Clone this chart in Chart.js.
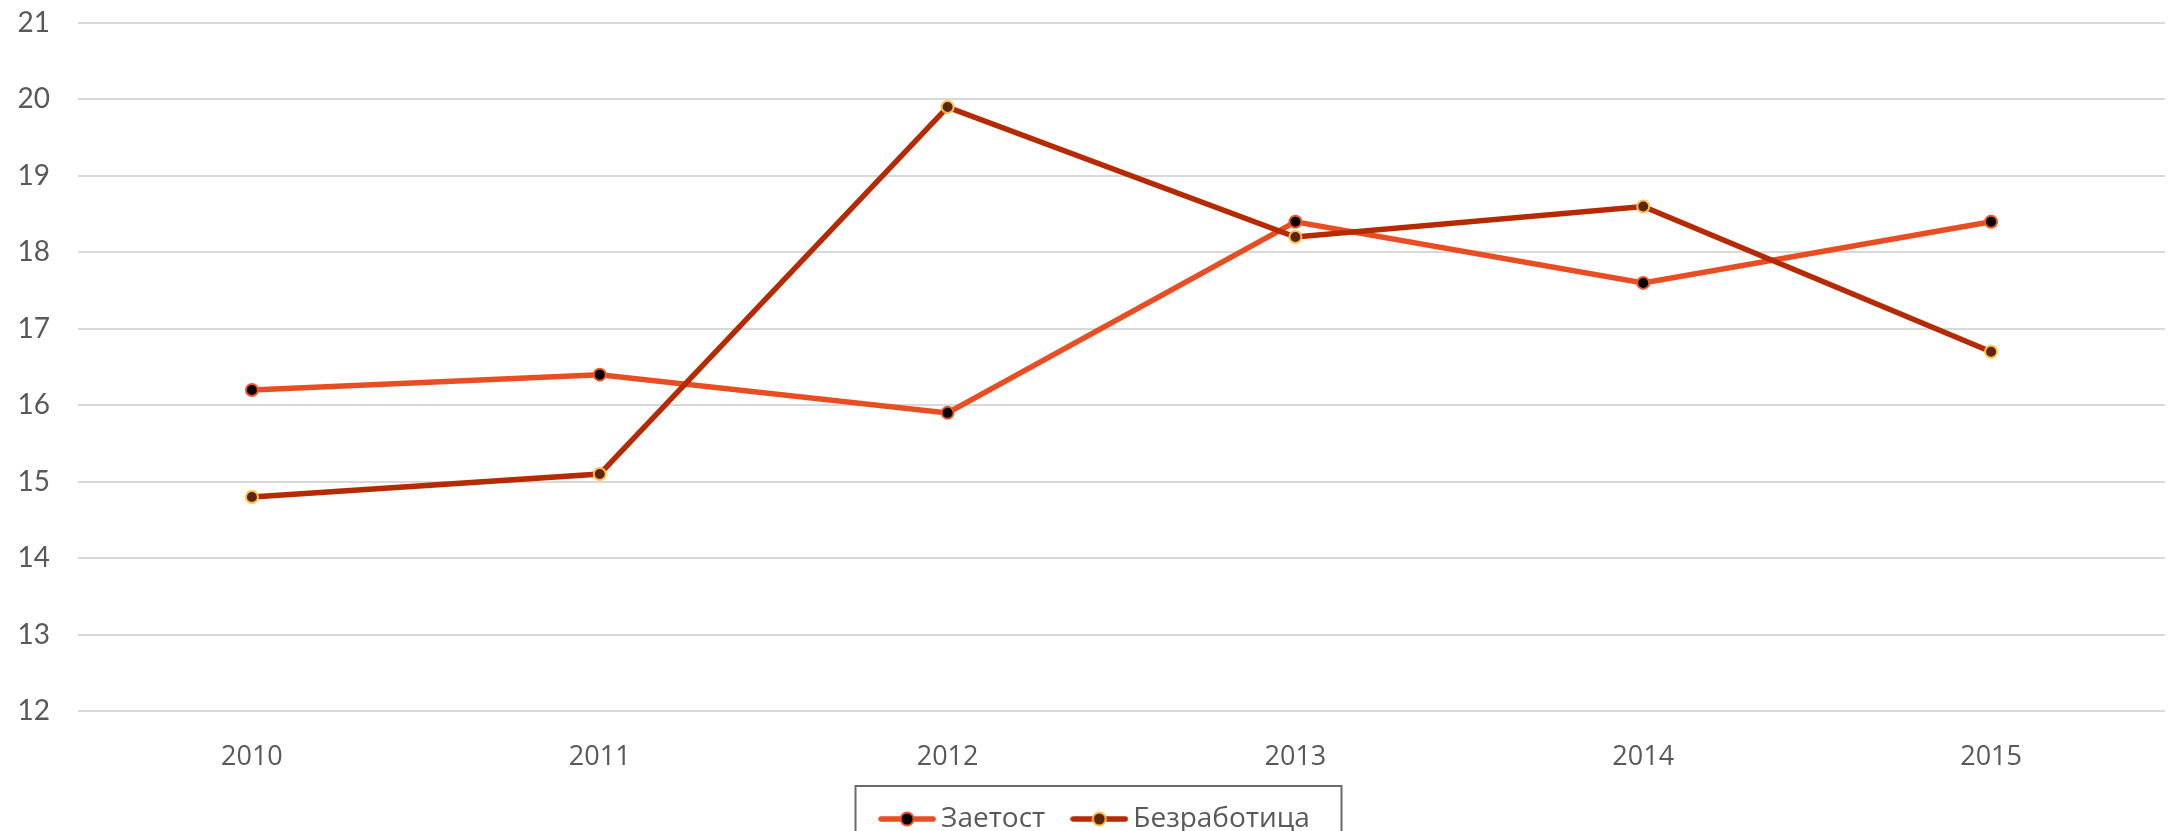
<!DOCTYPE html>
<html>
<head>
<meta charset="utf-8">
<script src="https://cdn.jsdelivr.net/npm/chart.js"></script>
<style>
  html, body { margin: 0; padding: 0; background: #ffffff; }
  #chart { display: block; }
</style>
</head>
<body>
<canvas id="chart" width="2173" height="831"></canvas>
<script>
// Data
const years = ['2010', '2011', '2012', '2013', '2014', '2015'];
const employment = [16.2, 16.4, 15.9, 18.4, 17.6, 18.4];
const unemployment = [14.8, 15.1, 19.9, 18.2, 18.6, 16.7];
const seriesNames = ['Заетост', 'Безработица'];
const yMin = 12;
const yMax = 21;

// Legend marker: short line with a dot in the middle
function legendMarker(lineColor, fill, stroke) {
    const c = document.createElement('canvas');
    c.width = 58;
    c.height = 18;
    const ctx = c.getContext('2d');
    ctx.strokeStyle = lineColor;
    ctx.lineWidth = 5.5;
    ctx.lineCap = 'round';
    ctx.beginPath();
    ctx.moveTo(3, 9);
    ctx.lineTo(55, 9);
    ctx.stroke();
    ctx.beginPath();
    ctx.arc(29, 9, 6.5, 0, Math.PI * 2);
    ctx.fillStyle = fill;
    ctx.fill();
    ctx.lineWidth = 2;
    ctx.strokeStyle = stroke;
    ctx.stroke();
    return c;
}

// Fix the legend height and shift it a bit, then frame it with a box
const legendLayout = {
    id: 'legendLayout',
    beforeLayout(chart) {
        const legend = chart.legend;
        if (!legend || legend._fitPatched) return;
        const origFit = legend.fit;
        legend.fit = function () {
            origFit.call(this);
            this.height = 60;
        };
        legend._fitPatched = true;
    },
    afterLayout(chart) {
        const legend = chart.legend;
        legend.left += 14;
        legend.right += 14;
    },
    afterDraw(chart) {
        const legend = chart.legend;
        const cx = (legend.left + legend.right) / 2;
        const ctx = chart.ctx;
        ctx.save();
        ctx.strokeStyle = '#6b6b6b';
        ctx.lineWidth = 2;
        ctx.strokeRect(cx - 243, 786, 486, 60);
        ctx.restore();
    }
};

new Chart(document.getElementById('chart'), {
    type: 'line',
    data: {
        labels: years,
        datasets: [
            {
                label: seriesNames[0],
                data: employment,
                order: 2,
                borderColor: '#E84E22',
                borderWidth: 5.5,
                pointRadius: 6,
                pointBorderWidth: 2,
                pointBackgroundColor: '#000000',
                pointBorderColor: '#F0552A',
                pointStyle: 'circle',
                tension: 0
            },
            {
                label: seriesNames[1],
                data: unemployment,
                order: 1,
                borderColor: '#B52A00',
                borderWidth: 5.5,
                pointRadius: 6,
                pointBorderWidth: 2,
                pointBackgroundColor: '#5C2612',
                pointBorderColor: '#FFC04A',
                pointStyle: 'circle',
                tension: 0
            }
        ]
    },
    options: {
        responsive: false,
        animation: false,
        layout: {
            padding: { top: 23, right: 4, left: 0, bottom: 0 }
        },
        scales: {
            x: {
                offset: true,
                afterFit(scale) { scale.height = 60; },
                grid: { display: false },
                border: { display: false },
                ticks: {
                    color: '#595959',
                    padding: 22,
                    font: { family: 'Open Sans', size: 27 }
                }
            },
            y: {
                min: yMin,
                max: yMax,
                afterFit(scale) { scale.width = 78; },
                // invisible tick marks give the gap between labels and grid
                grid: { color: '#d9d9d9', lineWidth: 2, drawTicks: true, tickLength: 26, tickColor: 'rgba(0,0,0,0)' },
                border: { display: false },
                ticks: {
                    stepSize: 1,
                    color: '#595959',
                    padding: 2,
                    font: { family: 'Lato', size: 28 }
                }
            }
        },
        plugins: {
            tooltip: { enabled: false },
            legend: {
                position: 'bottom',
                labels: {
                    usePointStyle: true,
                    pointStyleWidth: 40,
                    padding: 34,
                    color: '#595959',
                    font: { family: 'Open Sans', size: 28 },
                    generateLabels(chart) {
                        return [
                            { text: seriesNames[0], pointStyle: legendMarker('#E84E22', '#000000', '#F0552A'), fontColor: '#595959', datasetIndex: 0, hidden: false, lineWidth: 0 },
                            { text: seriesNames[1], pointStyle: legendMarker('#B52A00', '#5C2612', '#FFC04A'), fontColor: '#595959', datasetIndex: 1, hidden: false, lineWidth: 0 }
                        ];
                    }
                }
            }
        }
    },
    plugins: [legendLayout]
});
</script>
</body>
</html>
